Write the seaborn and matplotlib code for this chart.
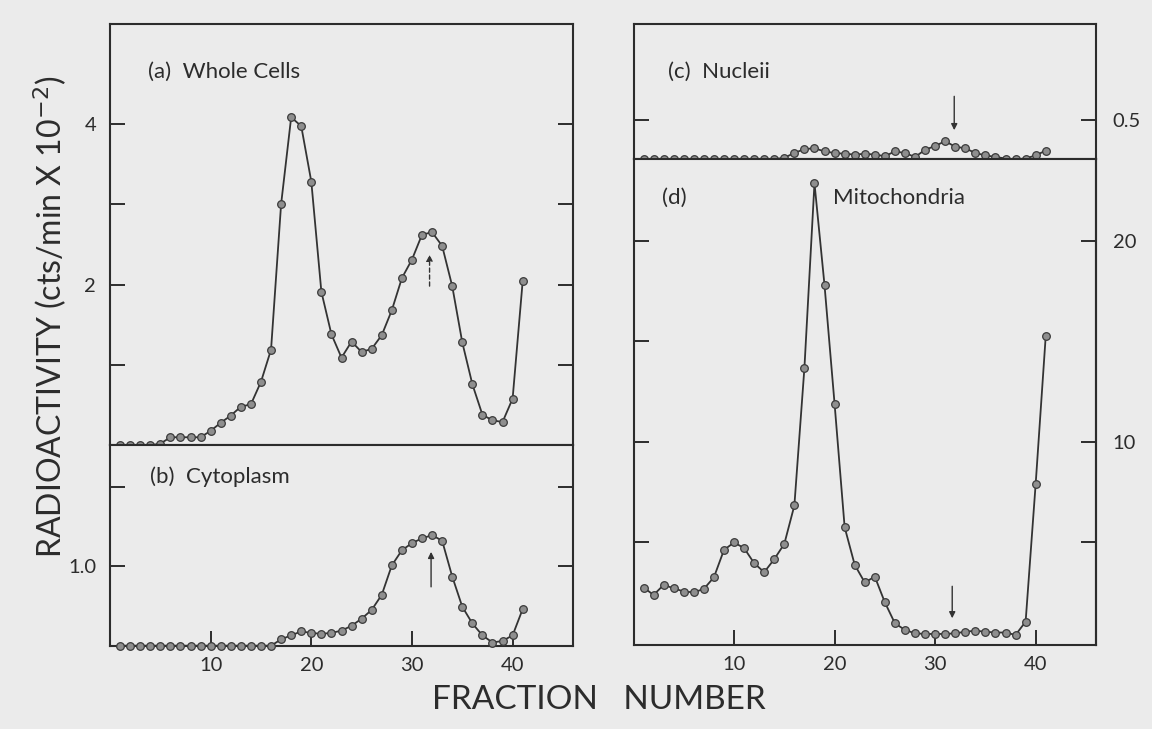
import matplotlib
matplotlib.use("Agg")
import matplotlib.pyplot as plt
import seaborn as sns
import pandas as pd

# ---------------- data ----------------
fractions = list(range(1, 42))

whole_cells = [0, 0, 0, 0, 0.02, 0.10, 0.10, 0.10, 0.10, 0.18, 0.28, 0.37, 0.48, 0.51,
               0.79, 1.19, 3.00, 4.08, 3.97, 3.28, 1.91, 1.38, 1.09, 1.29, 1.16, 1.20,
               1.37, 1.68, 2.08, 2.31, 2.62, 2.65, 2.48, 1.98, 1.28, 0.76, 0.38, 0.31,
               0.29, 0.58, 2.04]

cytoplasm = [0, 0, 0, 0, 0, 0, 0, 0, 0, 0, 0, 0, 0, 0, 0, 0, 0.08, 0.13, 0.18, 0.16,
             0.15, 0.16, 0.19, 0.25, 0.34, 0.45, 0.64, 1.01, 1.20, 1.29, 1.35, 1.39,
             1.32, 0.87, 0.49, 0.28, 0.13, 0.04, 0.06, 0.13, 0.46]

nucleii = [0, 0, 0, 0, 0, 0, 0, 0, 0, 0, 0, 0, 0, 0, 0.02, 0.08, 0.13, 0.14, 0.10,
           0.08, 0.07, 0.06, 0.07, 0.06, 0.04, 0.10, 0.08, 0.03, 0.12, 0.17, 0.23,
           0.16, 0.14, 0.08, 0.05, 0.03, 0.01, 0.0, 0.01, 0.05, 0.11]

mitochondria = [2.74, 2.37, 2.87, 2.70, 2.54, 2.50, 2.67, 3.25, 4.61, 4.98, 4.70, 3.95,
                3.50, 4.15, 4.91, 6.82, 13.67, 22.85, 17.77, 11.87, 5.74, 3.87, 2.99,
                3.28, 2.00, 0.96, 0.63, 0.46, 0.43, 0.43, 0.43, 0.46, 0.54, 0.59, 0.54,
                0.50, 0.50, 0.38, 1.04, 7.90, 15.25]

x_ticks = [10, 20, 30, 40]
x_tick_labels = ["10", "20", "30", "40"]

# ---------------- style ----------------
sns.set_theme(style="ticks")
plt.rcParams["font.family"] = ["Lato", "DejaVu Sans"]

BG = "#ebebeb"
INK = "#2c2c2c"
plt.rcParams.update({
    "figure.facecolor": BG,
    "axes.facecolor": BG,
    "axes.edgecolor": INK,
    "axes.linewidth": 1.5,
    "text.color": INK,
    "xtick.color": INK,
    "ytick.color": INK,
})

fig = plt.figure(figsize=(11.52, 7.29), dpi=100)

W, H = 1152, 729


def add_axes(left, top, right, bottom):
    return fig.add_axes([left / W, 1 - bottom / H, (right - left) / W, (bottom - top) / H])


TOP = 24
ax_a = add_axes(110, TOP, 573, 445.3)
ax_b = add_axes(110, 445.3, 573, 645.7)
ax_c = add_axes(633.5, TOP, 1096, 159.3)
ax_d = add_axes(633.5, 159.3, 1096, 645)


def draw(ax, values):
    df = pd.DataFrame({"fraction": fractions, "value": values})
    sns.lineplot(data=df, x="fraction", y="value", ax=ax, color="#333333", lw=1.3,
                 marker="o", markersize=5.5, markerfacecolor="#8e8e8e",
                 markeredgecolor="#3a3a3a", markeredgewidth=0.9, clip_on=False,
                 zorder=3)
    ax.set_xlim(0, 46)
    ax.set_xlabel("")
    ax.set_ylabel("")
    for s in ax.spines.values():
        s.set_linewidth(1.5)
        s.set_color(INK)


draw(ax_a, whole_cells)
draw(ax_b, cytoplasm)
draw(ax_c, nucleii)
draw(ax_d, mitochondria)

tick_kw = dict(direction="in", length=11, width=1.4, labelsize=14.5, pad=10)

# panel a
ax_a.set_ylim(0, (445.3 - TOP) / 80.4)
ax_a.set_yticks([1, 2, 3, 4])
ax_a.set_yticklabels(["", "2", "", "4"])
ax_a.tick_params(axis="y", left=True, right=True, labelleft=True, **tick_kw)
ax_a.tick_params(axis="x", bottom=False, labelbottom=False)

# panel b
ax_b.set_ylim(0, 2.52)
ax_b.set_yticks([1, 2])
ax_b.set_yticklabels(["1.0", ""])
ax_b.tick_params(axis="y", left=True, right=True, labelleft=True, **tick_kw)

# panel c
ax_c.set_ylim(0, (159.3 - TOP) / 78.7)
ax_c.set_yticks([0.5])
ax_c.set_yticklabels(["0.5"])
ax_c.tick_params(axis="y", left=True, right=True, labelleft=False, labelright=True,
                 **dict(tick_kw, pad=12))
ax_c.tick_params(axis="x", bottom=False, labelbottom=False)

# panel d
ax_d.set_ylim(-0.12, 24.04)
ax_d.set_yticks([5, 10, 15, 20])
ax_d.set_yticklabels(["", "", "", ""])
ax_d.tick_params(axis="y", left=True, right=False, labelleft=False, **tick_kw)
sec = ax_d.secondary_yaxis("right")
sec.set_yticks([5, 10, 20])
sec.set_yticklabels(["", "10", "20"])
sec.tick_params(axis="y", **dict(tick_kw, pad=12))
sec.spines["right"].set_linewidth(1.5)
sec.spines["right"].set_color(INK)

for ax in (ax_b, ax_d):
    ax.set_xticks(x_ticks)
    ax.set_xticklabels(x_tick_labels)
    ax.tick_params(axis="x", bottom=True, direction="in", length=11, width=1.4,
                   labelsize=14.5, pad=8)

# panel labels
lab_kw = dict(fontsize=16, color=INK, va="center", ha="left")
ax_a.text(3.8, 4.64, "(a)  Whole Cells", **lab_kw)
ax_b.text(4.0, 2.12, "(b)  Cytoplasm", **lab_kw)
ax_c.text(3.4, 1.11, "(c)  Nucleii", **lab_kw)
ax_d.text(2.8, 22.1, "(d)", **lab_kw)
ax_d.text(19.8, 22.1, "Mitochondria", **lab_kw)

# arrows marking fraction 32
arr = dict(arrowstyle="-|>", color="#333333", lw=1.0, mutation_scale=9,
           shrinkA=0, shrinkB=0)
ax_a.annotate("", xy=(31.75, 2.37), xytext=(31.75, 1.98),
              arrowprops=dict(arr, linestyle=(0, (3, 2))))
ax_b.annotate("", xy=(31.9, 1.18), xytext=(31.9, 0.74), arrowprops=arr)
ax_c.annotate("", xy=(31.9, 0.37), xytext=(31.9, 0.80), arrowprops=arr)
ax_d.annotate("", xy=(31.7, 1.21), xytext=(31.7, 2.8), arrowprops=arr)

# axis titles
fig.text(0.044, 0.565, "RADIOACTIVITY (cts/min X 10$^{-2}$)", rotation=90,
         ha="center", va="center", fontsize=23, color=INK)
fig.text(0.52, 0.04, "FRACTION   NUMBER", ha="center", va="center",
         fontsize=24, color=INK)

fig.savefig("out.png", dpi=100, facecolor=BG)
